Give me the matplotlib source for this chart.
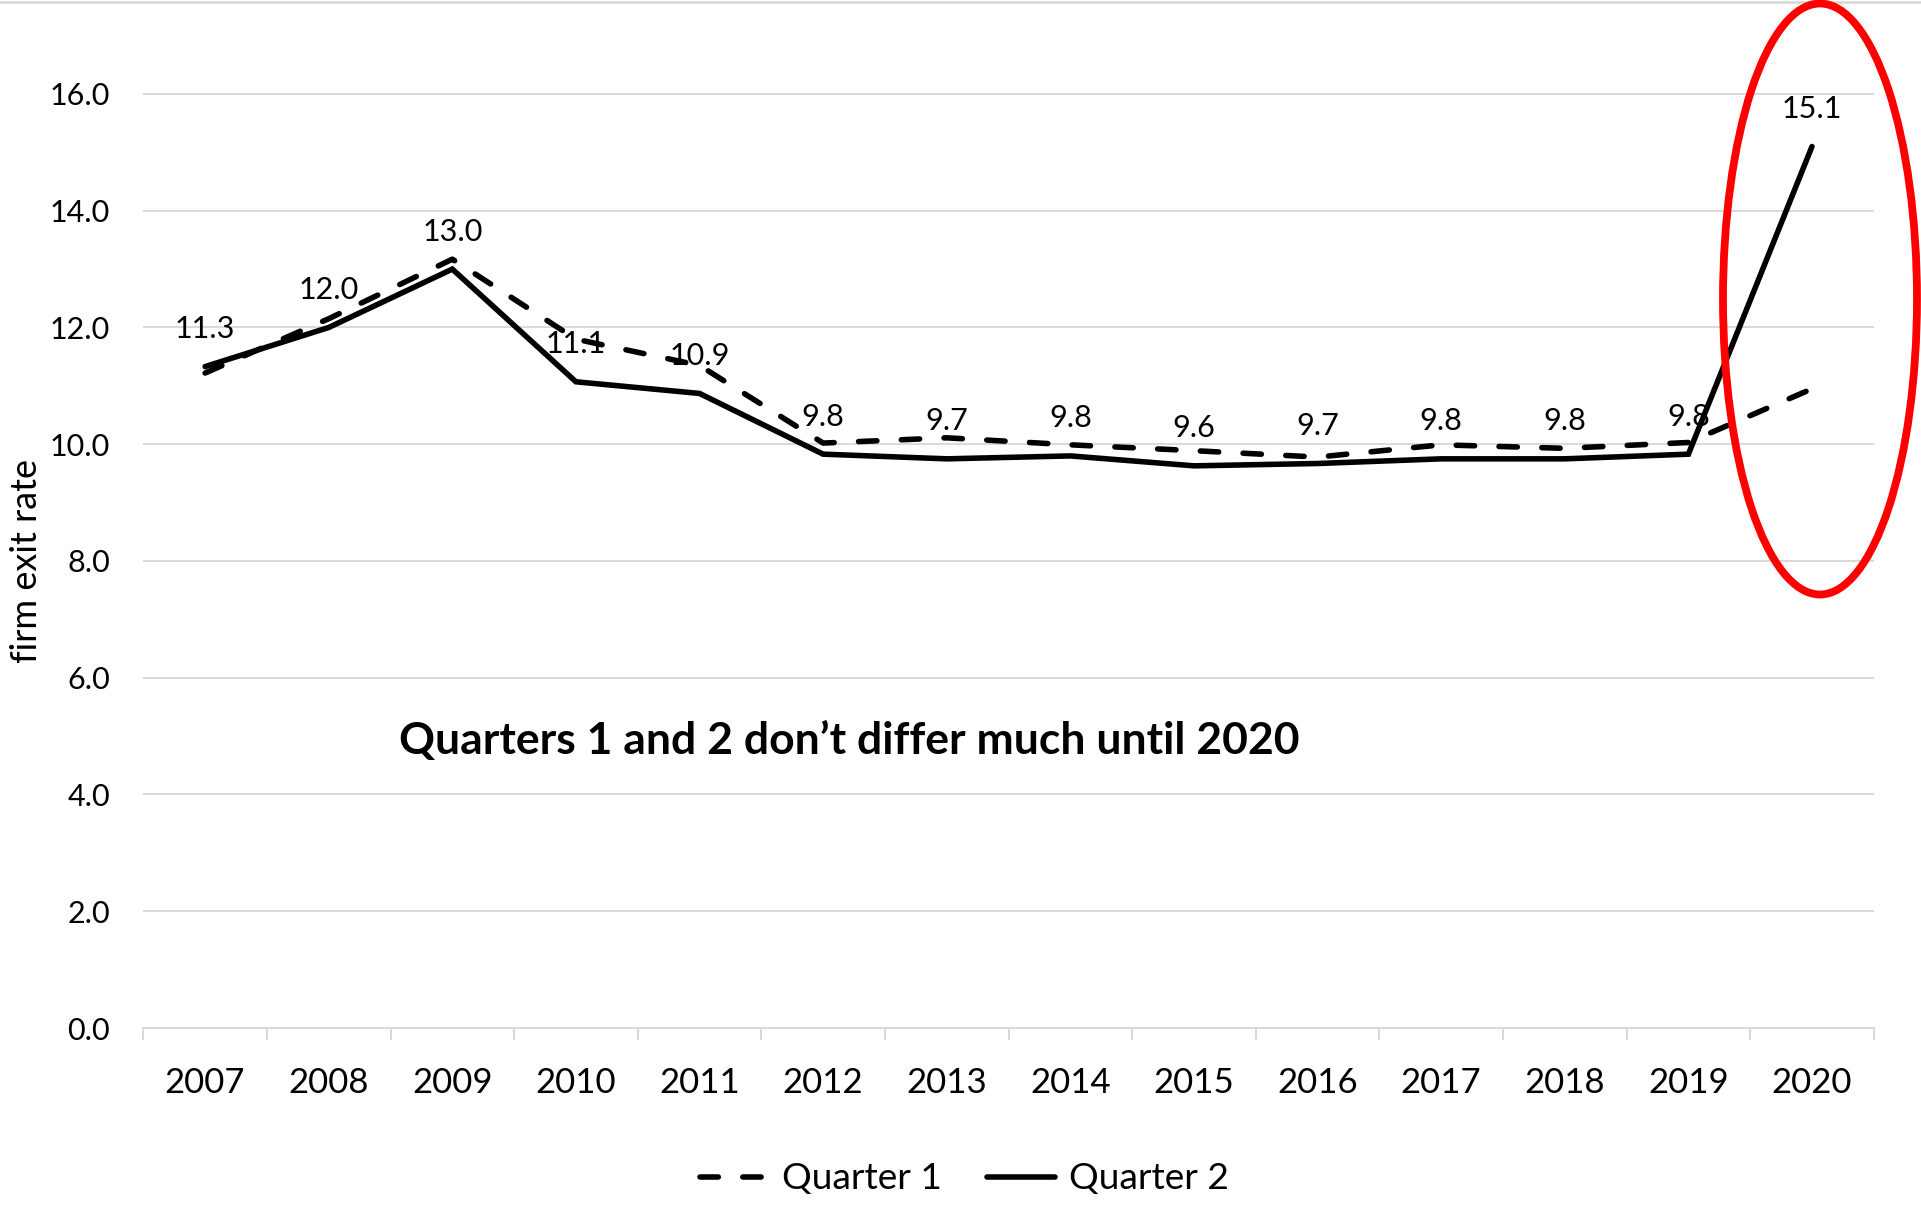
import matplotlib
matplotlib.use("Agg")
import matplotlib.pyplot as plt
from matplotlib.patches import Ellipse
from matplotlib.lines import Line2D
import numpy as np

years = ["2007", "2008", "2009", "2010", "2011", "2012", "2013",
         "2014", "2015", "2016", "2017", "2018", "2019", "2020"]
quarter1 = [11.22, 12.15, 13.17, 11.80, 11.35, 10.02, 10.11,
            9.99, 9.89, 9.78, 9.99, 9.93, 10.03, 10.95]
quarter2 = [11.33, 12.00, 13.00, 11.07, 10.87, 9.83, 9.75,
            9.80, 9.63, 9.67, 9.75, 9.75, 9.83, 15.10]
labels_q2 = ["11.3", "12.0", "13.0", "11.1", "10.9", "9.8", "9.7",
             "9.8", "9.6", "9.7", "9.8", "9.8", "9.8", "15.1"]
yticks = [0, 2, 4, 6, 8, 10, 12, 14, 16]
series_names = ["Quarter 1", "Quarter 2"]
annotation = "Quarters 1 and 2 don\u2019t differ much until 2020"
ylabel = "firm exit rate"

plt.rcParams["font.family"] = ["Lato", "DejaVu Sans"]

W, H = 1921, 1229
fig = plt.figure(figsize=(W / 100, H / 100), dpi=100)
ax = fig.add_axes([143.3 / W, 1 - 1028 / H, 1730.5 / W, 1028 / H])

x = np.arange(len(years))
grid_c = "#d9d9d9"

ax.plot(x, quarter1, color="black", lw=4.0, dashes=(3.3, 4.4),
        dash_capstyle="round", solid_capstyle="round", label=series_names[0], zorder=3)
ax.plot(x, quarter2, color="black", lw=4.0, solid_joinstyle="miter",
        solid_capstyle="round", label=series_names[1], zorder=3)

for xi, yi, lab in zip(x, quarter2, labels_q2):
    ax.annotate(lab, (xi, yi), xytext=(0, 27), textcoords="offset points",
                ha="center", va="center", fontsize=22, color="black", zorder=4)

ax.set_xlim(-0.5, len(years) - 0.5)
ax.set_ylim(0, 17.61)
ax.set_yticks(yticks)
ax.set_yticklabels([f"{v:.1f}" for v in yticks], fontsize=22)
ax.set_xticks(x)
ax.set_xticklabels(years, fontsize=25)
ax.set_xticks(np.arange(-0.5, len(years), 1.0), minor=True)
ax.tick_params(axis="x", which="major", length=0, pad=28)
ax.tick_params(axis="x", which="minor", length=8.6, width=1.4, color=grid_c)
ax.tick_params(axis="y", length=0, pad=24)

ax.grid(axis="y", color=grid_c, lw=1.4, zorder=0)
ax.set_axisbelow(True)
for s in ["top", "right", "left"]:
    ax.spines[s].set_visible(False)
ax.spines["bottom"].set_color(grid_c)
ax.spines["bottom"].set_linewidth(1.4)

ax.set_ylabel(ylabel, fontsize=26)
ax.yaxis.set_label_coords((43 - 143.3) / 1730.5, (1028 - 561) / 1028)

ax.text(5.21, 4.91, annotation, ha="center", va="center",
        fontsize=32, fontweight="bold", color="black")

leg = ax.legend(loc="center", bbox_to_anchor=(964.5 / W, 1 - 1179 / H),
                bbox_transform=fig.transFigure, ncol=2, frameon=False,
                fontsize=26.7, handlelength=1.85, handletextpad=0.38,
                columnspacing=1.2)

ell = Ellipse((1820 / W, 1 - 299 / H), 194 / W, 591 / H,
              transform=fig.transFigure, fill=False, edgecolor="#ff0000",
              lw=5.6, zorder=10)
fig.patches.append(ell)

fig.add_artist(Line2D([0, 1], [1 - 1.5 / H, 1 - 1.5 / H], transform=fig.transFigure,
                      color=grid_c, lw=2))

fig.savefig("out.png", dpi=100)
